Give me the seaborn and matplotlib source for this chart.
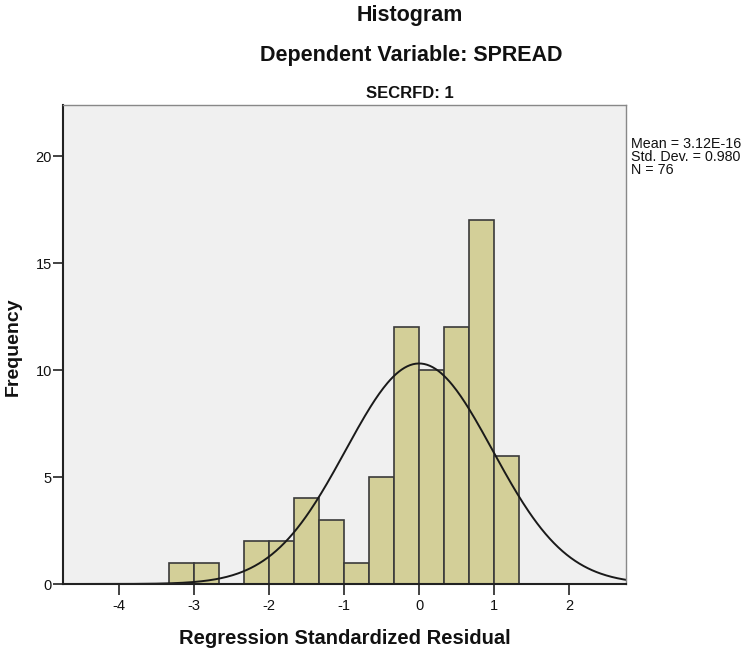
import numpy as np
import pandas as pd
import matplotlib
matplotlib.use("Agg")
import matplotlib.pyplot as plt
import seaborn as sns

# Data
bin_edges = [-10/3, -3, -8/3, -7/3, -2, -5/3, -4/3, -1, -2/3, -1/3, 0, 1/3, 2/3, 1, 4/3]
counts = [1, 1, 0, 2, 2, 4, 3, 1, 5, 12, 10, 12, 17, 6]
mean_val = 3.12e-16
std_val = 0.980
n_val = 76
x_ticks = [-4, -3, -2, -1, 0, 1, 2]
y_ticks = [0, 5, 10, 15, 20]

sns.set_theme(style="white")
plt.rcParams['font.family'] = ['Liberation Sans', 'DejaVu Sans']

centers = [(a + b) / 2 for a, b in zip(bin_edges[:-1], bin_edges[1:])]
df = pd.DataFrame({"resid": centers, "count": counts})

fig = plt.figure(figsize=(7.47, 6.48), dpi=100)
ax = fig.add_axes([63/747, 1-584/648, (626-63)/747, (584-105)/648])
ax.set_facecolor("#f0f0f0")

sns.histplot(data=df, x="resid", weights="count", bins=bin_edges, ax=ax,
             color="#d3cf98", edgecolor="#3a3a3a", linewidth=1.2, alpha=1.0)

# fitted normal curve
bw = bin_edges[1] - bin_edges[0]
xs = np.linspace(-4.75, 2.76, 400)
ys = n_val * bw * np.exp(-0.5 * ((xs - mean_val) / std_val) ** 2) / (std_val * np.sqrt(2 * np.pi))
sns.lineplot(x=xs, y=ys, ax=ax, color="#1a1a1a", linewidth=1.4)

ax.set_xlim(-4.75, 2.76)
ax.set_ylim(0, 22.4)
ax.set_xticks(x_ticks)
ax.set_xticklabels([str(t) for t in x_ticks])
ax.set_yticks(y_ticks)
ax.set_yticklabels([str(t) for t in y_ticks])
ax.tick_params(axis='x', direction='out', length=8, width=1.2, color='#222222',
               labelsize=10.5, labelcolor='#111111', bottom=True, pad=3)
ax.tick_params(axis='y', direction='out', length=7, width=1.2, color='#222222',
               labelsize=10.5, labelcolor='#111111', left=True, pad=1)

for s in ["left", "bottom"]:
    ax.spines[s].set_color("#222222")
    ax.spines[s].set_linewidth(1.5)
for s in ["top", "right"]:
    ax.spines[s].set_color("#888888")
    ax.spines[s].set_linewidth(1.0)

ax.set_xlabel("Regression Standardized Residual", fontsize=14.5, fontweight='bold',
              color='#111111', labelpad=11)
ax.set_ylabel("Frequency", fontsize=14, fontweight='bold', color='#111111')
ax.yaxis.set_label_coords(-41/563, (584-347)/479)

fig.text(410/747, 1-15/648, "Histogram", ha='center', va='center', fontsize=15.5,
         fontweight='bold', color='#111111')
fig.text(411/747, 1-56/648, "Dependent Variable: SPREAD", ha='center', va='center',
         fontsize=15.5, fontweight='bold', color='#111111')
fig.text(410/747, 1-93/648, "SECRFD: 1", ha='center', va='center', fontsize=12,
         fontweight='bold', color='#111111')

fig.text(631/747, 1-137/648,
         f"Mean = {mean_val:.2E}" + f"\nStd. Dev. = {std_val:.3f}\nN = {n_val}",
         ha='left', va='top', fontsize=10.3, color='#111111', linespacing=0.9)

fig.savefig("out.png", dpi=100)
